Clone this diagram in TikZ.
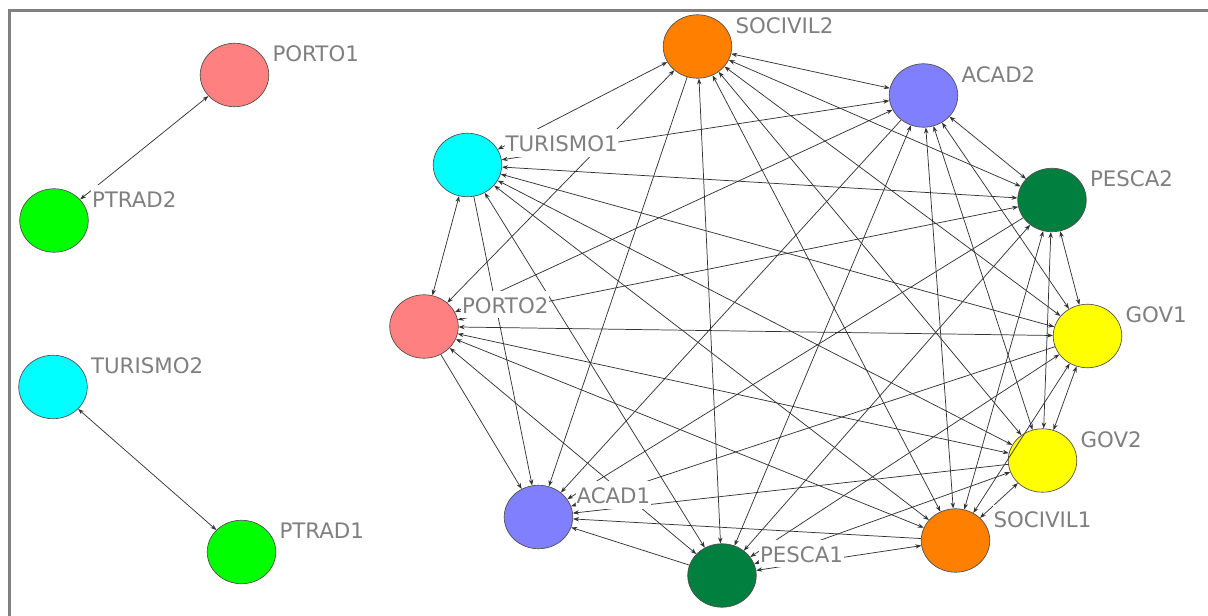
\documentclass[tikz,border=0pt]{standalone}
\usepackage{fontspec}
\setmainfont{DejaVu Sans}
\usetikzlibrary{shapes.geometric,arrows.meta,calc}

\definecolor{socivil}{HTML}{FF8000}
\definecolor{acad}{HTML}{8080FF}
\definecolor{pesca}{HTML}{007F3F}
\definecolor{gov}{HTML}{FFFF00}
\definecolor{porto}{HTML}{FF8080}
\definecolor{turismo}{HTML}{00FFFF}
\definecolor{ptrad}{HTML}{00FF00}
\definecolor{labelgray}{HTML}{7F7F7F}
\definecolor{framegray}{HTML}{808080}

% place the name of an actor to the upper right of its ellipse
\newcommand\actorname[2]{\node[tag] (#1-tag) at ($(#1.east)+(2.5,-13)$) {#2};}

\begin{document}
\begin{tikzpicture}[x=0.75pt,y=-0.75pt,
  actor/.style={ellipse, draw=black!70, line width=0.5pt,
    minimum width=51.4pt, minimum height=47.6pt, inner sep=0pt},
  tag/.style={anchor=base west, fill=white, text=labelgray,
    font=\fontsize{16}{19}\selectfont, inner xsep=0.5pt, inner ysep=0pt,
    text height=17pt, text depth=3.4pt},
  tie/.style={draw=black!80, line width=0.55pt,
    {Stealth[length=4.5pt,width=3.3pt]}-{Stealth[length=4.5pt,width=3.3pt]}},
  toward/.style={draw=black!80, line width=0.55pt,
    -{Stealth[length=4.5pt,width=3.3pt]}},
]
\useasboundingbox (0,0) rectangle (1208,616);
\fill[white] (0,0) rectangle (1208,616);

% actors of the large component
\node[actor, fill=socivil] (socivil2) at (697.5,46.5) {};
\node[actor, fill=acad]    (acad2)    at (923.5,95.5) {};
\node[actor, fill=pesca]   (pesca2)   at (1052,200) {};
\node[actor, fill=gov]     (gov1)     at (1087.5,336) {};
\node[actor, fill=gov]     (gov2)     at (1042.5,460.5) {};
\node[actor, fill=socivil] (socivil1) at (955.5,540.5) {};
\node[actor, fill=pesca]   (pesca1)   at (722,575.5) {};
\node[actor, fill=acad]    (acad1)    at (538.5,517) {};
\node[actor, fill=porto]   (porto2)   at (424,326.5) {};
\node[actor, fill=turismo] (turismo1) at (467.5,165) {};

% isolated dyads
\node[actor, fill=porto]   (porto1)   at (234.5,75) {};
\node[actor, fill=ptrad]   (ptrad2)   at (54,220.5) {};
\node[actor, fill=turismo] (turismo2) at (53,387) {};
\node[actor, fill=ptrad]   (ptrad1)   at (241.5,552) {};

% reciprocal ties among all actors except ACAD1
\foreach \a [count=\i] in {socivil2,acad2,pesca2,gov1,gov2,socivil1,pesca1,porto2,turismo1}{
  \foreach \b [count=\j] in {socivil2,acad2,pesca2,gov1,gov2,socivil1,pesca1,porto2,turismo1}{
    \ifnum\j>\i \draw[tie] (\a) -- (\b); \fi
  }
}
% ACAD1 only receives ties
\foreach \a in {socivil2,acad2,pesca2,gov1,gov2,socivil1,pesca1,porto2,turismo1}
  \draw[toward] (\a) -- (acad1);

\draw[tie] (porto1) -- (ptrad2);
\draw[tie] (turismo2) -- (ptrad1);

% names
\actorname{socivil2}{SOCIVIL2}
\actorname{acad2}{ACAD2}
\actorname{pesca2}{PESCA2}
\actorname{gov1}{GOV1}
\actorname{gov2}{GOV2}
\actorname{socivil1}{SOCIVIL1}
\actorname{pesca1}{PESCA1}
\actorname{acad1}{ACAD1}
\actorname{porto2}{PORTO2}
\actorname{turismo1}{TURISMO1}
\actorname{porto1}{PORTO1}
\actorname{ptrad2}{PTRAD2}
\actorname{turismo2}{TURISMO2}
\actorname{ptrad1}{PTRAD1}

% window frame on top
\draw[framegray, line width=1.6pt] (9.5,616) -- (9.5,10.5) -- (1208,10.5);
\end{tikzpicture}
\end{document}
